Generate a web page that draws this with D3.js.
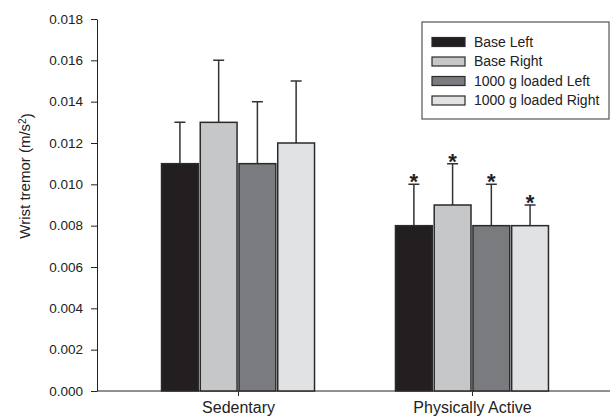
<!DOCTYPE html>
<meta charset="utf-8">
<style>
    body {
        margin: 0;
        background-color: #fff;
    }

    svg {
        display: block;
        font-family: "Liberation Sans", Arial, sans-serif;
    }

    .axis path,
    .axis line {
        stroke: #222;
        stroke-width: 1px;
    }

    .axis text {
        fill: #222;
        font-family: "Liberation Sans", Arial, sans-serif;
    }

    .bar {
        stroke: #2a2a2a;
        stroke-width: 1.5px;
    }

    .erro {
        stroke: #333;
        stroke-width: 1.5px;
        fill: none;
    }
</style>
<script src="https://cdn.jsdelivr.net/npm/d3@7"></script>
<svg width="611" height="416"></svg>
<script>
    // dados
    var grupos = ["Sedentary", "Physically Active"];
    var series = ["Base Left", "Base Right", "1000 g loaded Left", "1000 g loaded Right"];
    var cores = ["#231f20", "#c6c7c9", "#7a7b7e", "#e1e2e4"];

    var sedentario = [0.011, 0.013, 0.011, 0.012];
    var sedentarioErro = [0.002, 0.003, 0.003, 0.003];
    var ativo = [0.008, 0.009, 0.008, 0.008];
    var ativoErro = [0.002, 0.002, 0.002, 0.001];
    var ativoSignif = [true, true, true, true];

    var yTicks = [0, 0.002, 0.004, 0.006, 0.008, 0.010, 0.012, 0.014, 0.016, 0.018];

    var dados = [];
    series.forEach(function (s, i) {
        dados.push({ grupo: grupos[0], serie: s, valor: sedentario[i], erro: sedentarioErro[i], signif: false, cor: cores[i] });
        dados.push({ grupo: grupos[1], serie: s, valor: ativo[i], erro: ativoErro[i], signif: ativoSignif[i], cor: cores[i] });
    });

    var svg = d3.select("svg");
    var esq = 97, dir = 610, topo = 19, base = 391;

    var x0 = d3.scalePoint()
        .domain(grupos)
        .range([esq + 3, dir])
        .padding(0.59);

    var x1 = d3.scaleBand()
        .domain(series)
        .range([-76.5, 76.5])
        .paddingInner(0.05);

    var y = d3.scaleLinear()
        .domain([0, 0.018])
        .range([base, topo]);

    // eixo y
    svg.append("g")
        .attr("class", "axis")
        .attr("transform", "translate(" + esq + ",0)")
        .call(d3.axisLeft(y).tickValues(yTicks).tickFormat(d3.format(".3f"))
            .tickSize(6).tickSizeOuter(0).tickPadding(8))
        .selectAll("text")
        .style("font-size", "13.5px");

    // eixo x
    var eixoX = svg.append("g")
        .attr("class", "axis")
        .attr("transform", "translate(0," + base + ")")
        .call(d3.axisBottom(x0).tickSize(5).tickSizeOuter(0).tickPadding(6));
    eixoX.select(".domain").attr("d", "M" + esq + ",0H" + dir);
    eixoX.selectAll("text").style("font-size", "16px");

    // titulo do eixo y
    var rotulo = svg.append("text")
        .attr("transform", "translate(30,176) rotate(-90)")
        .attr("text-anchor", "middle")
        .style("font-size", "15px")
        .style("fill", "#222");
    rotulo.append("tspan").text("Wrist tremor (m/s");
    rotulo.append("tspan").attr("dy", "-0.45em").style("font-size", "10px").text("2");
    rotulo.append("tspan").attr("dy", "0.45em").text(")");

    // barras
    var g = svg.selectAll(".barra")
        .data(dados)
        .enter().append("g")
        .attr("class", "barra")
        .attr("transform", function (d) { return "translate(" + (x0(d.grupo) + x1(d.serie)) + ",0)"; });

    var w = x1.bandwidth();

    g.append("path")
        .attr("class", "erro")
        .attr("d", function (d) {
            var cx = w / 2, yt = y(d.valor + d.erro);
            return "M" + cx + "," + y(d.valor) + "V" + yt + "M" + (cx - 5.5) + "," + yt + "H" + (cx + 5.5);
        });

    g.append("rect")
        .attr("class", "bar")
        .attr("y", function (d) { return y(d.valor); })
        .attr("width", w)
        .attr("height", function (d) { return base - y(d.valor); })
        .attr("fill", function (d) { return d.cor; });

    g.filter(function (d) { return d.signif; })
        .append("text")
        .attr("x", w / 2)
        .attr("y", function (d) { return y(d.valor + d.erro) + 5; })
        .attr("text-anchor", "middle")
        .style("font-size", "22px")
        .style("font-weight", "bold")
        .style("fill", "#222")
        .text("*");

    // legenda
    var leg = svg.append("g").attr("transform", "translate(422,22)");
    leg.append("rect")
        .attr("width", 187)
        .attr("height", 97)
        .attr("fill", "#fff")
        .attr("stroke", "#555")
        .attr("stroke-width", 1.2);

    var item = leg.selectAll(".item")
        .data(series)
        .enter().append("g")
        .attr("class", "item")
        .attr("transform", function (d, i) { return "translate(10," + (20 + i * 19.5) + ")"; });

    item.append("rect")
        .attr("y", -4.5)
        .attr("width", 33)
        .attr("height", 9)
        .attr("fill", function (d, i) { return cores[i]; })
        .attr("stroke", "#2a2a2a")
        .attr("stroke-width", 1.2);

    item.append("text")
        .attr("x", 42)
        .attr("dy", "0.35em")
        .style("font-size", "14px")
        .style("fill", "#222")
        .text(function (d) { return d; });
</script>
